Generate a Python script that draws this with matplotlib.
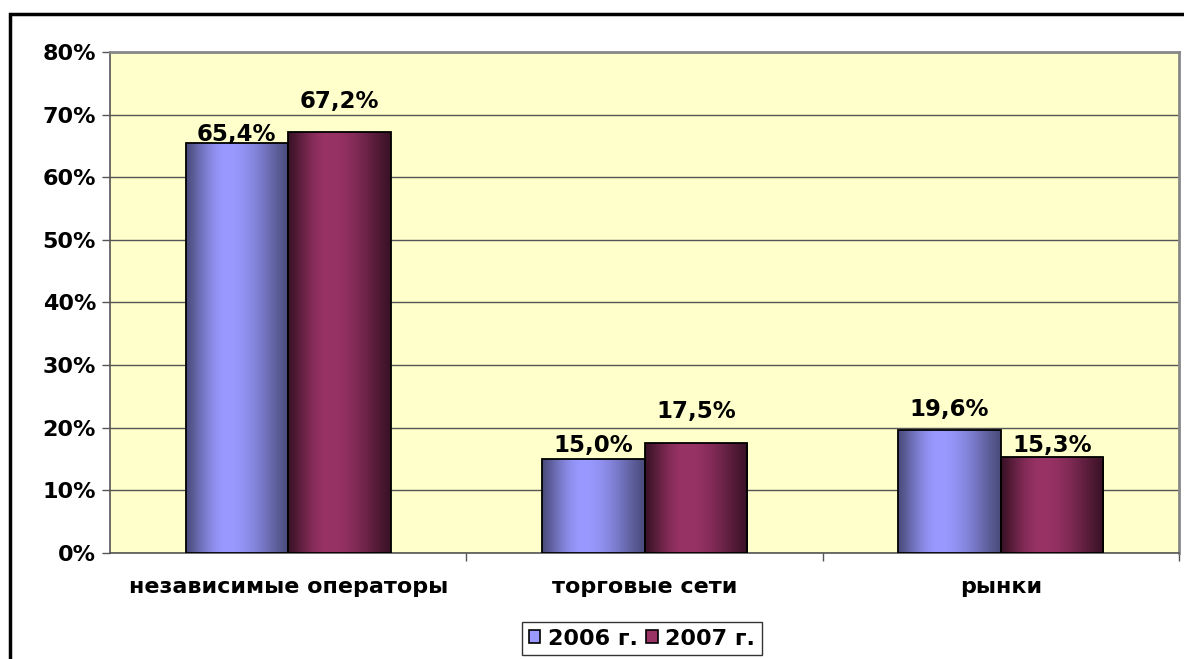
import numpy as np
import matplotlib.pyplot as plt
from matplotlib.patches import Patch, Rectangle
from matplotlib.colors import to_rgb
from matplotlib.ticker import FuncFormatter

categories = ["независимые операторы", "торговые сети", "рынки"]
series_names = ["2006 г.", "2007 г."]
values_2006 = [65.4, 15.0, 19.6]
values_2007 = [67.2, 17.5, 15.3]

# подписи Excel стоят на разной высоте (в пикселях от столбца до базовой линии)
label_offsets_2006 = [2, 7, 14]
label_offsets_2007 = [24, 25, 5]

light = ["#9999ff", "#993366"]
dark = ["#4a4c7c", "#3a1226"]

plt.rcParams['font.family'] = ['DejaVu Sans']

fig = plt.figure(figsize=(11.84, 6.59), dpi=100)
ax = fig.add_axes([110 / 1184, 106 / 659, 1069 / 1184, 501 / 659])
ax.set_facecolor("#ffffcc")

x = np.arange(len(categories))
w = 0.288


def shade(c_light, c_dark, n=200):
    t = np.linspace(0, 1, n)
    # ярче всего слева от центра, как у "цилиндра" Excel
    k = np.where(t < 0.4, t / 0.4, (1 - t) / 0.6)
    k = np.sin(k * np.pi / 2) ** 1.2
    a = np.array(to_rgb(c_dark))
    b = np.array(to_rgb(c_light))
    row = a[None, :] + (b - a)[None, :] * k[:, None]
    return row[None, :, :]


all_bars = []
for i, vals in enumerate([values_2006, values_2007]):
    bars = ax.bar(x + (i - 0.5) * w, vals, w, color="none", edgecolor="black",
                  linewidth=1.3, zorder=4)
    img = shade(light[i], dark[i])
    for b in bars:
        ax.imshow(img, extent=[b.get_x(), b.get_x() + b.get_width(), 0, b.get_height()],
                  aspect="auto", zorder=3, interpolation="bilinear")
    all_bars.append(bars)

for bars, vals, offs in zip(all_bars, [values_2006, values_2007],
                            [label_offsets_2006, label_offsets_2007]):
    for b, v, o in zip(bars, vals, offs):
        ax.annotate(f"{v:.1f}%".replace(".", ","),
                    (b.get_x() + b.get_width() / 2, b.get_height()),
                    xytext=(0, o * 0.72), textcoords="offset points",
                    ha="center", va="baseline", fontsize=16.5, fontweight="bold",
                    zorder=5)

ax.set_xlim(-0.5, 2.5)
ax.set_ylim(0, 80)
ax.set_yticks(np.arange(0, 81, 10))
ax.yaxis.set_major_formatter(FuncFormatter(lambda v, p: f"{v:.0f}%"))
ax.grid(axis="y", color="#555555", linewidth=1.0, zorder=1)
ax.set_axisbelow(True)
ax.tick_params(axis="y", labelsize=16, length=6, width=1, color="#555555", pad=4)
for t in ax.get_yticklabels():
    t.set_fontweight("bold")

ax.set_xticks(x)
ax.set_xticklabels(categories, fontsize=16, fontweight="bold")
ax.tick_params(axis="x", length=0, pad=17)
ax.set_xticks([0.5, 1.5, 2.5], minor=True)
ax.tick_params(axis="x", which="minor", length=6, width=1, color="#555555")

for s in ["left", "bottom"]:
    ax.spines[s].set_color("#555555")
    ax.spines[s].set_linewidth(1.2)
for s in ["top", "right"]:
    ax.spines[s].set_color("#888888")
    ax.spines[s].set_linewidth(2)

handles = [Patch(facecolor=light[i], edgecolor="black", linewidth=1.2) for i in range(2)]
leg = fig.legend(handles, series_names, loc="upper center",
                 bbox_to_anchor=(642 / 1184, 1 - 622 / 659), ncol=2,
                 prop={"weight": "bold", "size": 16},
                 handlelength=0.5, handleheight=0.5, handletextpad=0.35,
                 columnspacing=0.4, borderpad=0.3, borderaxespad=0,
                 frameon=True, fancybox=False)
leg.get_frame().set_edgecolor("black")
leg.get_frame().set_linewidth(1)

fig.add_artist(Rectangle((10 / 1184, -0.2), 2, 0.2 + 1 - 14 / 659,
                         transform=fig.transFigure, fill=False,
                         edgecolor="black", linewidth=2.5))

fig.savefig("out.png", dpi=100)
